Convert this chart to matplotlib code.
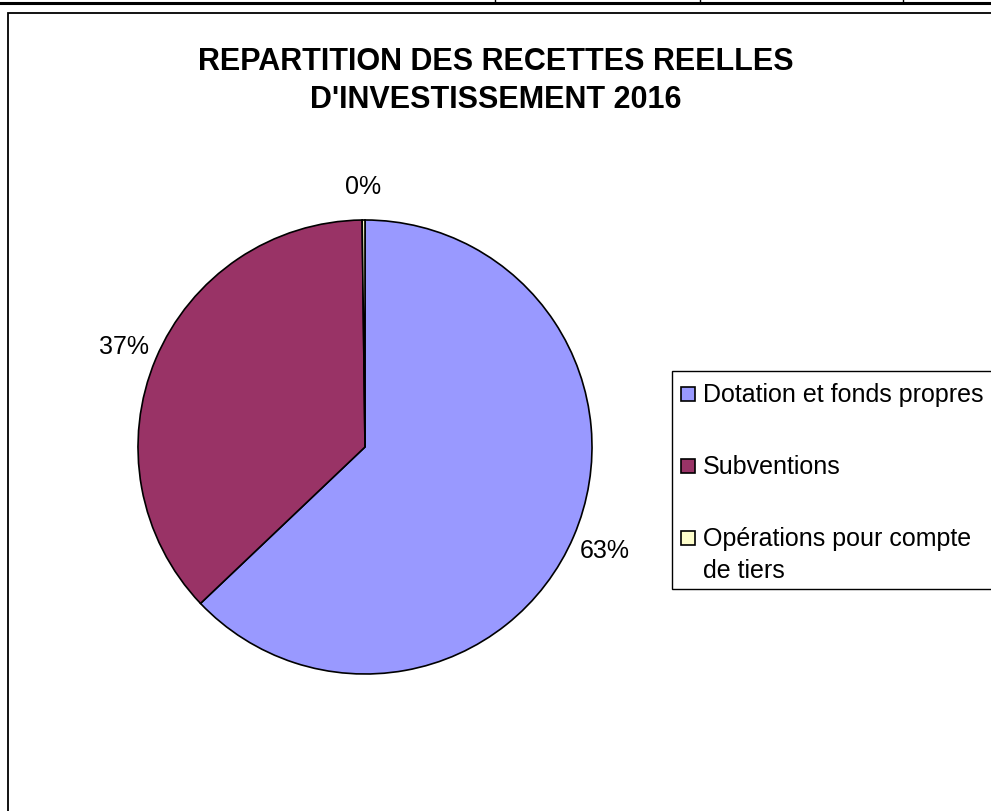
import matplotlib
matplotlib.use('Agg')
import matplotlib.pyplot as plt
from matplotlib.patches import Rectangle
from matplotlib.lines import Line2D

plt.rcParams['font.family'] = ['Liberation Sans', 'DejaVu Sans']

title = "REPARTITION DES RECETTES REELLES\nD'INVESTISSEMENT 2016"
categories = ['Dotation et fonds propres', 'Subventions', 'Opérations pour compte\nde tiers']
shares = [62.9, 36.9, 0.2]
colors = ['#9999FF', '#993366', '#FFFFCC']

W, H = 991, 812
fig = plt.figure(figsize=(W / 100, H / 100), dpi=100)


def px(x, y):
    # pixel coords (from top-left) -> figure fraction
    return x / W, 1 - y / H


# sheet lines above the chart
fig.add_artist(Line2D([0, 1], [1 - 4 / H] * 2, color='black', lw=2.2))
for x in [495, 700, 903]:
    fig.add_artist(Line2D([x / W] * 2, [1, 1 - 4 / H], color='black', lw=1))

# chart area border (runs off the right and bottom edges)
x0, y0 = px(8, 14)
fig.add_artist(Rectangle((x0, -0.05), 1.2, y0 + 0.05, transform=fig.transFigure,
                         fill=False, edgecolor='black', lw=1.3))

fig.text(0.5, 1 - 47 / H, title, ha='center', va='top', fontsize=22,
         fontweight='bold', linespacing=1.33)

# pie: centre (365, 448), radius 227 px
cx, cy, r = 365, 448, 227
pad = 1.1
ax = fig.add_axes([(cx - r * pad) / W, (H - cy - r * pad) / H, 2 * r * pad / W, 2 * r * pad / H])
wedges, _, autotexts = ax.pie(shares, colors=colors, startangle=90, counterclock=False,
                              autopct='%1.0f%%', pctdistance=1.15,
                              wedgeprops=dict(edgecolor='black', linewidth=1.2),
                              textprops=dict(fontsize=18, color='black'))
ax.set_xlim(-pad, pad)
ax.set_ylim(-pad, pad)
ax.set_aspect('auto')
ax.axis('off')

# legend box, drawn by hand so the marker sits on the first line of a label
lx0, ly0 = px(672, 590)
fig.add_artist(Rectangle((lx0, ly0), 1.0, (590 - 372) / H, transform=fig.transFigure,
                         facecolor='white', edgecolor='black', lw=1.0))
baselines = [402, 474, 546]
for lab, col, base in zip(categories, colors, baselines):
    sx, sy = px(681, base)
    fig.add_artist(Rectangle((sx, sy), 14 / W, 14 / H, transform=fig.transFigure,
                             facecolor=col, edgecolor='black', lw=1.2))
    for i, line in enumerate(lab.split('\n')):
        tx, ty = px(703, base + 32 * i)
        fig.text(tx, ty, line, ha='left', va='baseline', fontsize=18)

fig.savefig('out.png', dpi=100)
